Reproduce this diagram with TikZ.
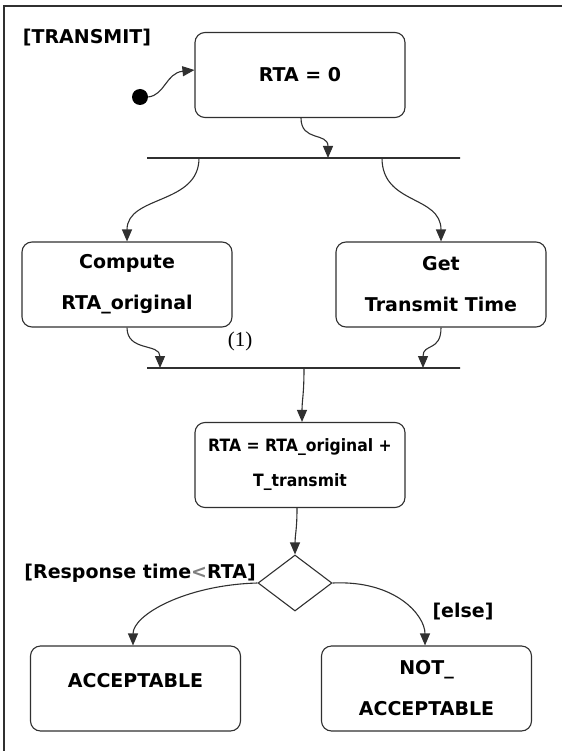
\documentclass[tikz,border=0pt]{standalone}
\usepackage{fontspec}
\setmainfont{DejaVu Sans}
\newfontfamily\serifnum{Liberation Serif}
\usetikzlibrary{shapes.geometric,arrows.meta}
\definecolor{ink}{HTML}{303030}
\tikzset{
  state/.style={draw=ink, line width=1.1pt, rounded corners=10pt, inner sep=0pt, align=center,
    minimum width=210pt, minimum height=85pt, font=\fontsize{19}{41}\selectfont\bfseries},
  bar/.style={draw=ink, fill=ink, line width=1.6pt, inner sep=0pt, minimum height=0pt},
  arr/.style={draw=ink, line width=1.1pt, -{Triangle[length=12pt,width=10pt]}},
  lbl/.style={inner sep=0pt, font=\fontsize{19}{22}\selectfont\bfseries},
}
\begin{document}
\begin{tikzpicture}[x=1pt,y=-1pt]
\useasboundingbox (0,0) rectangle (562,751);
% frame (left and top only visible)
\draw[ink, line width=1.8pt] (4,751) -- (4,6) -- (562,6);

\node[lbl] (title) at (87,38) {[TRANSMIT]};
\node[circle, fill=black, minimum size=16pt, inner sep=0pt] (init) at (140,97) {};

\node[state] (rta0) at (300,75) {RTA = 0};
\node[bar, minimum width=313pt] (bar1) at (303.5,158) {};
\node[state] (comp) at (127,284.5) {Compute\\RTA\_original};
\node[state] (get) at (441,284.5) {Get\\Transmit Time};
\node[bar, minimum width=313pt] (bar2) at (303.5,368) {};
\node[state, font=\fontsize{17}{35}\selectfont\bfseries] (sum) at (300,465) {\scalebox{0.92}[1]{RTA = RTA\_original +}\\\scalebox{0.92}[1]{T\_transmit}};
\node[diamond, draw=ink, line width=1.1pt, minimum width=74pt, minimum height=56pt, inner sep=0pt] (dec) at (295,583) {};
\node[state] (acc) at (135.5,688.5) {\raisebox{17pt}{ACCEPTABLE}};
\node[state] (nacc) at (426.5,688.5) {NOT\_\\ACCEPTABLE};

\node[inner sep=0pt, font=\serifnum\fontsize{21}{24}\selectfont] (one) at (240,341) {(1)};
\node[lbl, anchor=east] (resp) at (256,573) {[Response time{\color{gray}<}RTA]};
\node[lbl] (else) at (463,612) {[else]};

% points on the bars
\coordinate (b1in) at (328,158);
\coordinate (b1l) at (199,158);
\coordinate (b1r) at (382,158);
\coordinate (b2l) at (160,368);
\coordinate (b2r) at (423,368);
\coordinate (b2out) at (304,368);

\draw[arr] (init.east) .. controls (165,95) and (166,73) .. (rta0.west |- 0,70);
\draw[arr] (rta0.south -| 301,0) .. controls (301,142) and (328,132) .. (b1in);
\draw[arr] (b1l) .. controls (199,205) and (127,195) .. (comp.north);
\draw[arr] (b1r) .. controls (382,205) and (441,195) .. (get.north);
\draw[arr] (comp.south) .. controls (127,352) and (160,343) .. (b2l);
\draw[arr] (get.south) .. controls (441,352) and (423,343) .. (b2r);
\draw[arr] (b2out) .. controls (304,395) and (302,400) .. (sum.north -| 302,0);
\draw[arr] (sum.south -| 297,0) .. controls (297,530) and (295,535) .. (dec.north);
\draw[arr] (dec.west) .. controls (185,585) and (133,615) .. (acc.north -| 133,0);
\draw[arr] (dec.east) .. controls (395,580) and (425,615) .. (nacc.north -| 425,0);
\end{tikzpicture}
\end{document}
